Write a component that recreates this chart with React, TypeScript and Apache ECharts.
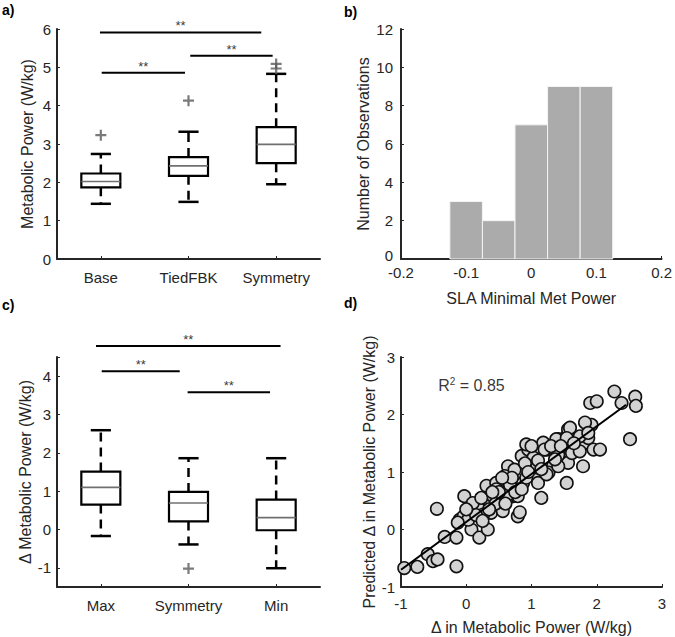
import React, { useEffect, useRef } from "react";
import * as echarts from "echarts";

// ---------- Panel a ----------
const catsA = ["Base", "TiedFBK", "Symmetry"];
// [lowWhisker, q1, median, q3, highWhisker]
const statsA = [
  [1.44, 1.87, 2.02, 2.23, 2.74],
  [1.49, 2.17, 2.43, 2.66, 3.32],
  [1.95, 2.5, 2.99, 3.44, 4.83],
];
const outliersA = [
  [0, 3.23],
  [1, 4.13],
  [2, 4.97],
  [2, 5.09],
];
// significance bars: [xStart, xEnd, y] on 0.5..3.5 scale
const sigA = [
  [0.99, 2.83, 5.91],
  [2.02, 2.96, 5.3],
  [1.01, 1.96, 4.86],
];

// ---------- Panel b ----------
const binEdgesB = [-0.125, -0.075, -0.025, 0.025, 0.075, 0.125];
const countsB = [3, 2, 7, 9, 9];

// ---------- Panel c ----------
const catsC = ["Max", "Symmetry", "Min"];
const statsC = [
  [-0.17, 0.65, 1.1, 1.51, 2.59],
  [-0.39, 0.21, 0.69, 0.98, 1.86],
  [-1.01, -0.02, 0.31, 0.78, 1.86],
];
const outliersC = [[1, -1.02]];
const sigC = [
  [0.945, 3.05, 4.79],
  [1.01, 1.9, 4.13],
  [1.99, 2.93, 3.58],
];

// ---------- Panel d ----------
const measuredD = [
  -1.03, -0.95, -0.75, -0.59, -0.51, -0.44, -0.45, -0.33, -0.15, -0.15, -0.1, -0.03, -0.04, 0.08, 0.18, 0.2,
  0.33, 0.32, 0.31, 0.38, 0.51, 0.56, 0.59, 0.64, 0.72, 0.79, 0.79, 0.82, 0.85, 0.87, 0.95, 1.03, 1.06, 1.15,
  1.23, 1.33, 1.41, 1.51, 1.54, 1.54, 1.56, 1.56, 1.62, 1.74, 1.79, 1.82, 1.87, 1.92, 1.9, 2.0, 1.95, 2.05,
  2.27, 2.38, 2.59, 2.6, 2.51,
  0.26, 0.1, 0.46, 0.62, 0.41, 0.03, -0.13, 0.23, 0.67,
  0.92, 1.18, 1.38, 1.41, 1.59, 1.74, 1.82, 0.59, 0.46, 0.64, 0.82, 1.08, 1.26, 1.41, 0.74, 0.92, 1.1, 0.67,
  1.59, 1.54, 1.74, 1.87, 1.2, 1.36, 1.23,
  0.45, 0.5, 0.7, 0.75, 0.9, 0.95, 1.0, 1.1, 1.15, 0.6, 0.35, 0.15, 0.0, 0.25, 0.85, 1.3, 1.45, 1.65, 0.55, 0.4,
];
const predictedD = [
  -0.64, -0.67, -0.65, -0.43, -0.55, -0.52, 0.36, -0.13, -0.64, -0.14, 0.17, 0.58, 0.23, 0.0, 0.41, -0.14,
  0.0, 0.52, 0.76, 0.29, 0.58, 0.32, 0.76, 1.1, 0.58, 0.58, 0.23, 0.99, 1.28, 0.81, 1.39, 1.25, 0.9, 0.55,
  1.39, 1.1, 1.57, 1.37, 1.62, 0.81, 1.74, 1.16, 1.33, 1.42, 1.1, 1.51, 1.59, 1.82, 2.2, 2.23, 1.39, 1.39,
  2.4, 2.2, 2.31, 2.15, 1.57,
  0.26, 0.46, 0.81, 0.52, 0.58, 0.17, 0.12, 0.55, 0.75,
  1.48, 1.51, 1.57, 1.3, 1.57, 1.36, 1.86, 0.93, 0.7, 0.61, 0.3, 1.08, 0.99, 1.1, 1.04, 0.9, 0.81, 0.78,
  1.77, 1.59, 1.62, 1.68, 1.39, 1.22, 0.96,
  0.45, 0.65, 0.9, 0.65, 1.15, 1.0, 1.45, 1.2, 1.05, 0.45, 0.35, 0.25, 0.35, 0.15, 0.7, 1.45, 1.45, 1.5, 0.9, 0.65,
];
const fitLineD = [
  [-1.0, -0.7],
  [2.45, 2.17],
];
const r2Text = "0.85";

const FONT = "Liberation Sans";
const TXT = "#262626";

function boxRender(params: any, api: any) {
  const idx = api.value(0);
  const low = api.coord([idx, api.value(1)]);
  const q1 = api.coord([idx, api.value(2)]);
  const med = api.coord([idx, api.value(3)]);
  const q3 = api.coord([idx, api.value(4)]);
  const high = api.coord([idx, api.value(5)]);
  const band = api.size([1, 0])[0];
  const bw = band * 0.445;
  const cw = band * 0.23;
  const cx = low[0];
  const dash = { stroke: "#000", lineWidth: 2.5, lineDash: [9, 6], fill: null };
  const solid = { stroke: "#000", lineWidth: 2.5, fill: null };
  return {
    type: "group",
    children: [
      { type: "line", shape: { x1: cx, y1: q3[1], x2: cx, y2: high[1] }, style: dash },
      { type: "line", shape: { x1: cx, y1: q1[1], x2: cx, y2: low[1] }, style: dash },
      { type: "line", shape: { x1: cx - cw / 2, y1: high[1], x2: cx + cw / 2, y2: high[1] }, style: solid },
      { type: "line", shape: { x1: cx - cw / 2, y1: low[1], x2: cx + cw / 2, y2: low[1] }, style: solid },
      {
        type: "rect",
        shape: { x: cx - bw / 2, y: q3[1], width: bw, height: q1[1] - q3[1] },
        style: { stroke: "#000", lineWidth: 2.2, fill: "#fff" },
      },
      {
        type: "line",
        shape: { x1: cx - bw / 2, y1: med[1], x2: cx + bw / 2, y2: med[1] },
        style: { stroke: "#707070", lineWidth: 1.6 },
      },
    ],
  };
}

const plusPath = "path://M4,0H6V4H10V6H6V10H4V6H0V4H4Z";

function axisLineStyle() {
  return { show: true, onZero: false, lineStyle: { color: TXT, width: 2 } };
}
function tickStyle(alignWithLabel = false) {
  return { show: true, inside: true, length: 3, alignWithLabel, lineStyle: { color: TXT, width: 1 } };
}
const labelStyle = { color: TXT, fontFamily: FONT, fontSize: 15 };
const nameStyle = { color: TXT, fontFamily: FONT, fontSize: 16 };

function sigSeries(sig: number[][], xAxisIndex: number, yAxisIndex: number) {
  const out: any[] = [];
  sig.forEach((s) => {
    out.push({
      type: "line",
      xAxisIndex,
      yAxisIndex,
      clip: false,
      symbol: "none",
      silent: true,
      lineStyle: { color: "#000", width: 2 },
      data: [
        [s[0], s[2]],
        [s[1], s[2]],
      ],
      z: 5,
    });
    out.push({
      type: "scatter",
      xAxisIndex,
      yAxisIndex,
      clip: false,
      symbolSize: 0,
      silent: true,
      data: [[(s[0] + s[1]) / 2, s[2]]],
      label: {
        show: true,
        position: "top",
        distance: 0,
        formatter: "**",
        color: "#000",
        fontFamily: FONT,
        fontSize: 13,
      },
      z: 5,
    });
  });
  return out;
}

export default function App() {
  const ref = useRef<HTMLDivElement>(null);
  useEffect(() => {
    if (!ref.current) return;
    const chart = echarts.init(ref.current, null, { renderer: "svg" });
    const histData = countsB.map((c, i) => [binEdgesB[i], binEdgesB[i + 1], c]);
    const scatterD = measuredD.map((x, i) => [x, predictedD[i]]);
    const option: any = {
      animation: false,
      backgroundColor: "#fff",
      textStyle: { fontFamily: FONT },
      grid: [
        { left: 57, top: 29, width: 263, height: 230 },
        { left: 401, top: 29, width: 261, height: 230 },
        { left: 57, top: 357, width: 263, height: 230 },
        { left: 401, top: 357, width: 261, height: 230 },
      ],
      xAxis: [
        {
          gridIndex: 0,
          type: "category",
          data: catsA,
          boundaryGap: true,
          axisLine: axisLineStyle(),
          axisTick: tickStyle(true),
          axisLabel: { ...labelStyle, margin: 11, interval: 0 },
          splitLine: { show: false },
        },
        { gridIndex: 0, type: "value", min: 0.5, max: 3.5, show: false },
        {
          gridIndex: 1,
          type: "value",
          min: -0.2,
          max: 0.2,
          interval: 0.1,
          axisLine: axisLineStyle(),
          axisTick: tickStyle(),
          axisLabel: { ...labelStyle, margin: 7, lineHeight: 12 },
          splitLine: { show: false },
          name: "SLA Minimal Met Power",
          nameLocation: "middle",
          nameGap: 31,
          nameTextStyle: nameStyle,
        },
        {
          gridIndex: 2,
          type: "category",
          data: catsC,
          boundaryGap: true,
          axisLine: axisLineStyle(),
          axisTick: tickStyle(true),
          axisLabel: { ...labelStyle, margin: 11, interval: 0 },
          splitLine: { show: false },
        },
        { gridIndex: 2, type: "value", min: 0.5, max: 3.5, show: false },
        {
          gridIndex: 3,
          type: "value",
          min: -1,
          max: 3,
          interval: 1,
          axisLine: axisLineStyle(),
          axisTick: tickStyle(),
          axisLabel: { ...labelStyle, margin: 9 },
          splitLine: { show: false },
          name: "Δ in Metabolic Power (W/kg)",
          nameLocation: "middle",
          nameGap: 32,
          nameTextStyle: nameStyle,
        },
      ],
      yAxis: [
        {
          gridIndex: 0,
          type: "value",
          min: 0,
          max: 6,
          interval: 1,
          axisLine: axisLineStyle(),
          axisTick: tickStyle(),
          axisLabel: { ...labelStyle, margin: 6 },
          splitLine: { show: false },
          name: "Metabolic Power (W/kg)",
          nameLocation: "middle",
          nameGap: 22,
          nameTextStyle: nameStyle,
        },
        {
          gridIndex: 1,
          type: "value",
          min: 0,
          max: 12,
          interval: 2,
          axisLine: axisLineStyle(),
          axisTick: tickStyle(),
          axisLabel: {
            ...labelStyle,
            margin: 8,
            lineHeight: 12,
            formatter: (v: number) => (v === 0 ? "{z|0}" : String(v)),
            rich: { z: { color: TXT, fontFamily: FONT, fontSize: 15, lineHeight: 12, padding: [0, 0, 8, 0] } },
          },
          splitLine: { show: false },
          name: "Number of Observations",
          nameLocation: "middle",
          nameGap: 30,
          nameTextStyle: nameStyle,
        },
        {
          gridIndex: 2,
          type: "value",
          min: -1.5,
          max: 4.5,
          splitNumber: 6,
          axisLine: axisLineStyle(),
          axisTick: tickStyle(),
          axisLabel: {
            ...labelStyle,
            margin: 6,
            formatter: (v: number) => (Number.isInteger(v) ? String(v) : ""),
          },
          splitLine: { show: false },
          name: "Δ Metabolic Power (W/kg)",
          nameLocation: "middle",
          nameGap: 22,
          nameTextStyle: nameStyle,
        },
        {
          gridIndex: 3,
          type: "value",
          min: -1,
          max: 3,
          interval: 1,
          axisLine: axisLineStyle(),
          axisTick: tickStyle(),
          axisLabel: { ...labelStyle, margin: 6 },
          splitLine: { show: false },
          name: "Predicted Δ in Metabolic Power (W/kg)",
          nameLocation: "middle",
          nameGap: 22,
          nameTextStyle: nameStyle,
        },
      ],
      graphic: [
        { type: "text", left: 2, top: 3, style: { text: "a)", font: `bold 14px "${FONT}"`, fill: "#000" } },
        { type: "text", left: 344, top: 5, style: { text: "b)", font: `bold 14px "${FONT}"`, fill: "#000" } },
        { type: "text", left: 2, top: 298, style: { text: "c)", font: `bold 14px "${FONT}"`, fill: "#000" } },
        { type: "text", left: 344, top: 296, style: { text: "d)", font: `bold 14px "${FONT}"`, fill: "#000" } },
      ],
      series: [
        // panel a
        {
          type: "custom",
          xAxisIndex: 0,
          yAxisIndex: 0,
          renderItem: boxRender,
          encode: { x: 0, y: [1, 2, 3, 4, 5] },
          data: statsA.map((s, i) => [i, ...s]),
          z: 3,
        },
        {
          type: "scatter",
          xAxisIndex: 0,
          yAxisIndex: 0,
          symbol: plusPath,
          symbolSize: 11,
          itemStyle: { color: "#5a5a5a" },
          data: outliersA,
          z: 4,
        },
        ...sigSeries(sigA, 1, 0),
        // panel b
        {
          type: "custom",
          xAxisIndex: 2,
          yAxisIndex: 1,
          renderItem: (params: any, api: any) => {
            const p0 = api.coord([api.value(0), api.value(2)]);
            const p1 = api.coord([api.value(1), 0]);
            return {
              type: "rect",
              shape: { x: p0[0], y: p0[1], width: p1[0] - p0[0], height: p1[1] - p0[1] },
              style: { fill: "#ababab", stroke: "#f4f4f4", lineWidth: 1 },
            };
          },
          encode: { x: [0, 1], y: 2 },
          data: histData,
          z: 3,
        },
        // panel c
        {
          type: "custom",
          xAxisIndex: 3,
          yAxisIndex: 2,
          renderItem: boxRender,
          encode: { x: 0, y: [1, 2, 3, 4, 5] },
          data: statsC.map((s, i) => [i, ...s]),
          z: 3,
        },
        {
          type: "scatter",
          xAxisIndex: 3,
          yAxisIndex: 2,
          symbol: plusPath,
          symbolSize: 11,
          itemStyle: { color: "#5a5a5a" },
          data: outliersC,
          z: 4,
        },
        ...sigSeries(sigC, 4, 2),
        // panel d
        {
          type: "scatter",
          xAxisIndex: 5,
          yAxisIndex: 3,
          symbol: "circle",
          symbolSize: 12.5,
          itemStyle: { color: "#d3d3d3", borderColor: "#111", borderWidth: 1.6, opacity: 1 },
          data: scatterD,
          z: 3,
        },
        {
          type: "line",
          xAxisIndex: 5,
          yAxisIndex: 3,
          symbol: "none",
          lineStyle: { color: "#000", width: 2 },
          data: fitLineD,
          z: 4,
        },
        {
          type: "scatter",
          xAxisIndex: 5,
          yAxisIndex: 3,
          symbolSize: 0,
          silent: true,
          data: [[-0.43, 2.5]],
          label: {
            show: true,
            position: "right",
            distance: 0,
            formatter: `{n|R}{s|2}{n| = ${r2Text}}`,
            rich: {
              n: { fontFamily: FONT, fontSize: 16, color: "#000" },
              s: { fontFamily: FONT, fontSize: 10, color: "#000", padding: [0, 0, 9, 0] },
            },
          },
          z: 5,
        },
      ],
    };
    chart.setOption(option);
    return () => chart.dispose();
  }, []);
  return (
    <div
      ref={ref}
      style={{ position: "absolute", left: 0, top: 0, width: 675, height: 637, background: "#fff" }}
    />
  );
}
